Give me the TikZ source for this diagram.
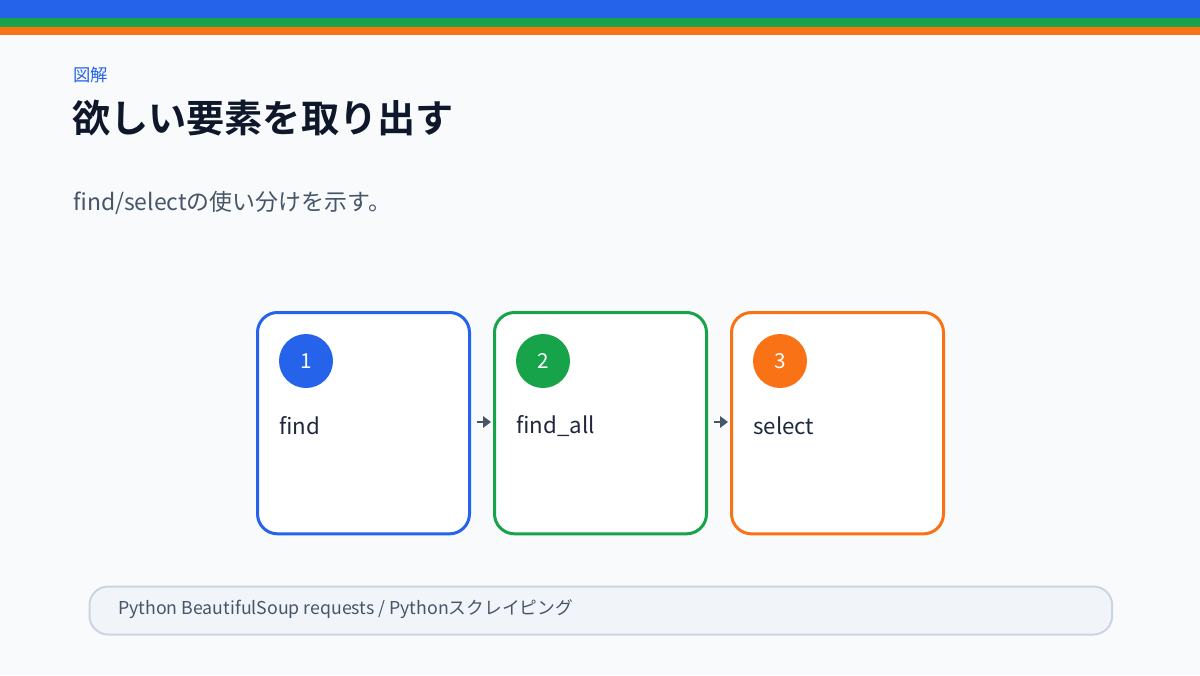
\documentclass[tikz,border=0pt]{standalone}
\usepackage{fontspec}
\setmainfont{Noto Sans CJK JP}
\newfontfamily\jpbold{Noto Sans CJK JP Bold}
\usetikzlibrary{arrows.meta}
\definecolor{bgc}{HTML}{F8FAFC}
\definecolor{cblue}{HTML}{2563EB}
\definecolor{cgreen}{HTML}{16A34A}
\definecolor{corange}{HTML}{F97316}
\definecolor{ink}{HTML}{0F172A}
\definecolor{slate}{HTML}{475569}
\definecolor{txt}{HTML}{1E293B}
\definecolor{footfill}{HTML}{F1F5F9}
\definecolor{footline}{HTML}{CBD5E1}
\tikzset{
  stepcard/.style={draw=#1, line width=2.25pt, fill=white, rounded corners=15pt, minimum width=159pt, minimum height=166pt, anchor=north west, inner sep=0pt},
  numdot/.style={circle, fill=#1, minimum size=40.5pt, inner sep=0pt, text=white, font=\fontsize{15.5}{16}\selectfont},
  steplabel/.style={anchor=west, text=txt, font=\fontsize{16.7}{18}\selectfont, inner sep=0pt},
  flow/.style={draw=slate, line width=2.2pt, -{Triangle[length=6pt,width=8.5pt]}},
}
\begin{document}
\begin{tikzpicture}[x=0.75pt,y=-0.75pt]
\useasboundingbox (0,0) rectangle (1200,675);
\fill[bgc] (0,0) rectangle (1200,675);
\fill[cblue] (0,0) rectangle (1200,18);
\fill[cgreen] (0,18) rectangle (1200,27);
\fill[corange] (0,27) rectangle (1200,35);
\node[anchor=west, inner sep=0pt, text=cblue, font=\fontsize{13}{14}\selectfont] (kicker) at (73,75) {図解};
\node[anchor=west, inner sep=0pt, text=ink, font=\jpbold\fontsize{28.6}{30}\selectfont] (title) at (72,118) {欲しい要素を取り出す};
\node[anchor=west, inner sep=0pt, text=slate, font=\fontsize{17.2}{18}\selectfont] (sub) at (73,203) {find/selectの使い分けを示す。};

\node[stepcard=cblue] (c1) at (256,311) {};
\node[stepcard=cgreen] (c2) at (493,311) {};
\node[stepcard=corange] (c3) at (730,311) {};

\node[numdot=cblue] (n1) at (306,361) {1};
\node[numdot=cgreen] (n2) at (543,361) {2};
\node[numdot=corange] (n3) at (780,361) {3};

\node[steplabel] (l1) at (279,426) {find};
\node[steplabel] (l2) at (516,426) {find\_all};
\node[steplabel] (l3) at (753,426) {select};

\coordinate (a1s) at (477,422);
\coordinate (a1e) at (491,422);
\coordinate (a2s) at (714,422);
\coordinate (a2e) at (728,422);
\draw[flow] (a1s) -- (a1e);
\draw[flow] (a2s) -- (a2e);

\node[draw=footline, line width=1.5pt, fill=footfill, rounded corners=14pt, minimum width=767pt, minimum height=36pt, anchor=north west, inner sep=0pt] (foot) at (88.5,585.5) {};
\node[anchor=west, inner sep=0pt, text=slate, font=\fontsize{13.3}{14}\selectfont] (foottext) at (118,609) {Python BeautifulSoup requests / Pythonスクレイピング};
\end{tikzpicture}
\end{document}
